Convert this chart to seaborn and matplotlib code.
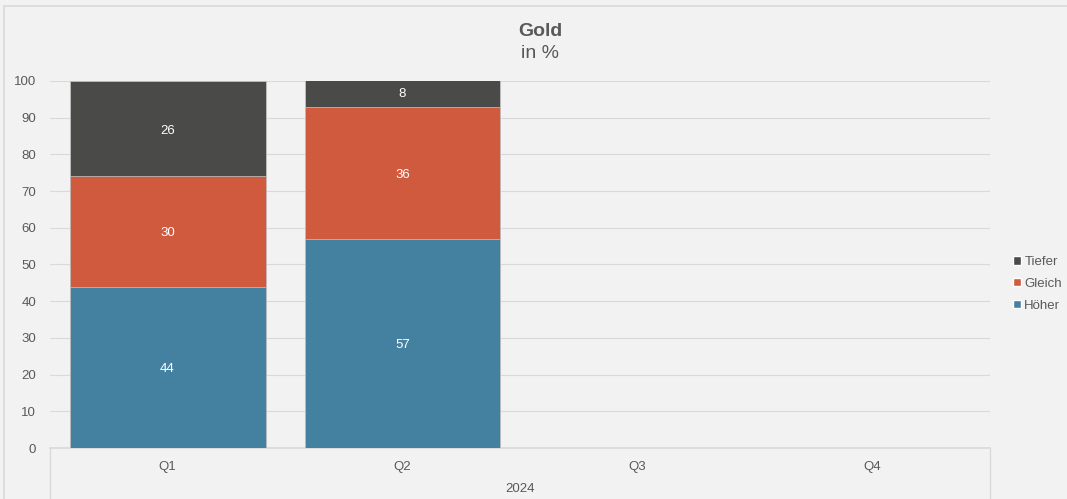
import matplotlib
matplotlib.use("Agg")
import matplotlib.pyplot as plt
import seaborn as sns
import pandas as pd
from matplotlib.patches import Patch
from matplotlib.lines import Line2D

# data
quarters = ["Q1", "Q2", "Q3", "Q4"]
year = "2024"
hoeher = [44, 57]
gleich = [30, 36]
tiefer = [26, 8]
series_names = ["Höher", "Gleich", "Tiefer"]
colors = {"Höher": "#4480a0", "Gleich": "#d05a3e", "Tiefer": "#4a4a48"}

BG = "#f2f2f2"
TXT = "#595959"
GRID = "#d9d9d9"

sns.set_theme(style="white")
plt.rcParams["font.family"] = ["Liberation Sans", "DejaVu Sans"]

df = pd.DataFrame({
    "quarter": quarters[:len(hoeher)],
    "Höher": hoeher,
    "Gleich": gleich,
    "Tiefer": tiefer,
})
df["top_h"] = df["Höher"]
df["top_g"] = df["Höher"] + df["Gleich"]
df["top_t"] = df["top_g"] + df["Tiefer"]

fig = plt.figure(figsize=(10.67, 4.99), dpi=100, facecolor=BG)
ax = fig.add_axes([0.0469, 0.1022, 0.8809, 0.7355], facecolor=BG)

# overplot cumulative totals to get a stacked look
for col, name in [("top_t", "Tiefer"), ("top_g", "Gleich"), ("top_h", "Höher")]:
    sns.barplot(data=df, x="quarter", y=col, order=quarters, color=colors[name],
                width=0.834, saturation=1, ax=ax, zorder=3,
                edgecolor="#c8c8c8", linewidth=0.5)

for i, row in df.iterrows():
    bottom = 0
    for name in series_names:
        val = row[name]
        ax.text(i, bottom + val / 2 - 0.5, f"{val}", ha="center", va="center",
                color="white", fontsize=9.5, zorder=4)
        bottom += val

ax.set_xlim(-0.5, 3.5)
ax.set_ylim(0, 100)
ax.set_yticks(range(0, 101, 10))
ax.yaxis.grid(True, color=GRID, linewidth=0.8, zorder=0)
ax.set_axisbelow(True)
for s in ["left", "right", "top"]:
    ax.spines[s].set_visible(False)
ax.spines["bottom"].set_color(GRID)
ax.tick_params(axis="both", length=0, labelsize=9.5, labelcolor=TXT)
ax.tick_params(axis="y", pad=10)
ax.tick_params(axis="x", pad=9)
ax.set_xlabel("")
ax.set_ylabel("")

# multi-level category axis: year label and separators
for xv in [-0.5, 3.5]:
    ax.add_line(Line2D([xv, xv], [0, -0.14], transform=ax.get_xaxis_transform(),
                       color=GRID, linewidth=1, clip_on=False))
ax.text(1.5, -0.111, year, transform=ax.get_xaxis_transform(), ha="center",
        va="center", fontsize=9.5, color=TXT)

# titles
fig.text(0.506, 0.937, "Gold", ha="center", va="center", fontsize=14,
         fontweight="bold", color=TXT)
fig.text(0.506, 0.892, "in %", ha="center", va="center", fontsize=14, color=TXT)

# outer frame: top and left edges only
fig.add_artist(Line2D([0.004, 1.0], [0.988, 0.988], transform=fig.transFigure,
                      color=GRID, linewidth=1.2))
fig.add_artist(Line2D([0.004, 0.004], [0.0, 0.988], transform=fig.transFigure,
                      color=GRID, linewidth=1.2))

handles = [Patch(facecolor=colors[n], label=n) for n in ["Tiefer", "Gleich", "Höher"]]
fig.legend(handles=handles, loc="center left", bbox_to_anchor=(0.9495, 0.431),
           frameon=False, fontsize=9.5, labelcolor=TXT, handlelength=0.6,
           handleheight=0.6, handletextpad=0.25, labelspacing=0.75, borderpad=0,
           borderaxespad=0)

fig.savefig("out.png", dpi=100, facecolor=BG)
